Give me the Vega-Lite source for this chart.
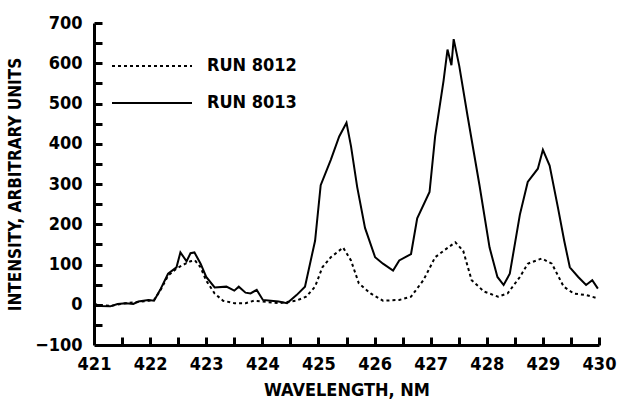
{
  "$schema": "https://vega.github.io/schema/vega-lite/v6.json",
  "width": 505,
  "height": 322,
  "autosize": {"type": "none"},
  "padding": {"left": 94, "top": 23, "right": 21, "bottom": 66},
  "background": "white",
  "config": {
    "view": {"stroke": null},
    "font": "DejaVu Sans Condensed, Liberation Sans Narrow, Liberation Sans, sans-serif"
  },
  "datasets": {
    "spectra": [
      {"wl": 421.0, "intensity": 2, "run": "RUN 8013"},
      {"wl": 421.12, "intensity": -3, "run": "RUN 8013"},
      {"wl": 421.29, "intensity": -4, "run": "RUN 8013"},
      {"wl": 421.42, "intensity": 2, "run": "RUN 8013"},
      {"wl": 421.57, "intensity": 4, "run": "RUN 8013"},
      {"wl": 421.7, "intensity": 2, "run": "RUN 8013"},
      {"wl": 421.79, "intensity": 8, "run": "RUN 8013"},
      {"wl": 421.97, "intensity": 12, "run": "RUN 8013"},
      {"wl": 422.07, "intensity": 10, "run": "RUN 8013"},
      {"wl": 422.18, "intensity": 37, "run": "RUN 8013"},
      {"wl": 422.32, "intensity": 77, "run": "RUN 8013"},
      {"wl": 422.47, "intensity": 93, "run": "RUN 8013"},
      {"wl": 422.54, "intensity": 130, "run": "RUN 8013"},
      {"wl": 422.65, "intensity": 108, "run": "RUN 8013"},
      {"wl": 422.72, "intensity": 128, "run": "RUN 8013"},
      {"wl": 422.79, "intensity": 130, "run": "RUN 8013"},
      {"wl": 422.9, "intensity": 102, "run": "RUN 8013"},
      {"wl": 423.0, "intensity": 69, "run": "RUN 8013"},
      {"wl": 423.15, "intensity": 43, "run": "RUN 8013"},
      {"wl": 423.36, "intensity": 45, "run": "RUN 8013"},
      {"wl": 423.5, "intensity": 35, "run": "RUN 8013"},
      {"wl": 423.58, "intensity": 45, "run": "RUN 8013"},
      {"wl": 423.7, "intensity": 30, "run": "RUN 8013"},
      {"wl": 423.79, "intensity": 28, "run": "RUN 8013"},
      {"wl": 423.9, "intensity": 37, "run": "RUN 8013"},
      {"wl": 424.01, "intensity": 12, "run": "RUN 8013"},
      {"wl": 424.15, "intensity": 10, "run": "RUN 8013"},
      {"wl": 424.29, "intensity": 8, "run": "RUN 8013"},
      {"wl": 424.44, "intensity": 4, "run": "RUN 8013"},
      {"wl": 424.61, "intensity": 24, "run": "RUN 8013"},
      {"wl": 424.76, "intensity": 45, "run": "RUN 8013"},
      {"wl": 424.94, "intensity": 159, "run": "RUN 8013"},
      {"wl": 425.04, "intensity": 297, "run": "RUN 8013"},
      {"wl": 425.22, "intensity": 360, "run": "RUN 8013"},
      {"wl": 425.37, "intensity": 418, "run": "RUN 8013"},
      {"wl": 425.5, "intensity": 452, "run": "RUN 8013"},
      {"wl": 425.58, "intensity": 394, "run": "RUN 8013"},
      {"wl": 425.69, "intensity": 293, "run": "RUN 8013"},
      {"wl": 425.83, "intensity": 191, "run": "RUN 8013"},
      {"wl": 426.01, "intensity": 118, "run": "RUN 8013"},
      {"wl": 426.15, "intensity": 102, "run": "RUN 8013"},
      {"wl": 426.33, "intensity": 85, "run": "RUN 8013"},
      {"wl": 426.44, "intensity": 110, "run": "RUN 8013"},
      {"wl": 426.65, "intensity": 126, "run": "RUN 8013"},
      {"wl": 426.76, "intensity": 215, "run": "RUN 8013"},
      {"wl": 426.98, "intensity": 280, "run": "RUN 8013"},
      {"wl": 427.08, "intensity": 419, "run": "RUN 8013"},
      {"wl": 427.23, "intensity": 557, "run": "RUN 8013"},
      {"wl": 427.3, "intensity": 634, "run": "RUN 8013"},
      {"wl": 427.37, "intensity": 595, "run": "RUN 8013"},
      {"wl": 427.41, "intensity": 660, "run": "RUN 8013"},
      {"wl": 427.51, "intensity": 593, "run": "RUN 8013"},
      {"wl": 427.66, "intensity": 467, "run": "RUN 8013"},
      {"wl": 427.87, "intensity": 297, "run": "RUN 8013"},
      {"wl": 428.05, "intensity": 142, "run": "RUN 8013"},
      {"wl": 428.19, "intensity": 69, "run": "RUN 8013"},
      {"wl": 428.3, "intensity": 49, "run": "RUN 8013"},
      {"wl": 428.41, "intensity": 77, "run": "RUN 8013"},
      {"wl": 428.59, "intensity": 224, "run": "RUN 8013"},
      {"wl": 428.73, "intensity": 305, "run": "RUN 8013"},
      {"wl": 428.91, "intensity": 338, "run": "RUN 8013"},
      {"wl": 429.0, "intensity": 385, "run": "RUN 8013"},
      {"wl": 429.12, "intensity": 346, "run": "RUN 8013"},
      {"wl": 429.27, "intensity": 240, "run": "RUN 8013"},
      {"wl": 429.38, "intensity": 159, "run": "RUN 8013"},
      {"wl": 429.48, "intensity": 93, "run": "RUN 8013"},
      {"wl": 429.63, "intensity": 69, "run": "RUN 8013"},
      {"wl": 429.77, "intensity": 49, "run": "RUN 8013"},
      {"wl": 429.88, "intensity": 61, "run": "RUN 8013"},
      {"wl": 429.98, "intensity": 40, "run": "RUN 8013"},
      {"wl": 421.0, "intensity": 1, "run": "RUN 8012"},
      {"wl": 421.29, "intensity": -3, "run": "RUN 8012"},
      {"wl": 421.57, "intensity": 4, "run": "RUN 8012"},
      {"wl": 421.79, "intensity": 7, "run": "RUN 8012"},
      {"wl": 421.97, "intensity": 10, "run": "RUN 8012"},
      {"wl": 422.07, "intensity": 12, "run": "RUN 8012"},
      {"wl": 422.18, "intensity": 35, "run": "RUN 8012"},
      {"wl": 422.32, "intensity": 72, "run": "RUN 8012"},
      {"wl": 422.47, "intensity": 90, "run": "RUN 8012"},
      {"wl": 422.6, "intensity": 100, "run": "RUN 8012"},
      {"wl": 422.72, "intensity": 108, "run": "RUN 8012"},
      {"wl": 422.8, "intensity": 110, "run": "RUN 8012"},
      {"wl": 422.9, "intensity": 93, "run": "RUN 8012"},
      {"wl": 423.0, "intensity": 60, "run": "RUN 8012"},
      {"wl": 423.15, "intensity": 28, "run": "RUN 8012"},
      {"wl": 423.3, "intensity": 10, "run": "RUN 8012"},
      {"wl": 423.5, "intensity": 4, "run": "RUN 8012"},
      {"wl": 423.7, "intensity": 4, "run": "RUN 8012"},
      {"wl": 423.85, "intensity": 10, "run": "RUN 8012"},
      {"wl": 424.0, "intensity": 8, "run": "RUN 8012"},
      {"wl": 424.3, "intensity": 4, "run": "RUN 8012"},
      {"wl": 424.6, "intensity": 10, "run": "RUN 8012"},
      {"wl": 424.78, "intensity": 20, "run": "RUN 8012"},
      {"wl": 424.94, "intensity": 45, "run": "RUN 8012"},
      {"wl": 425.07, "intensity": 93, "run": "RUN 8012"},
      {"wl": 425.22, "intensity": 118, "run": "RUN 8012"},
      {"wl": 425.44, "intensity": 142, "run": "RUN 8012"},
      {"wl": 425.58, "intensity": 110, "run": "RUN 8012"},
      {"wl": 425.72, "intensity": 53, "run": "RUN 8012"},
      {"wl": 425.93, "intensity": 28, "run": "RUN 8012"},
      {"wl": 426.15, "intensity": 10, "run": "RUN 8012"},
      {"wl": 426.44, "intensity": 12, "run": "RUN 8012"},
      {"wl": 426.65, "intensity": 20, "run": "RUN 8012"},
      {"wl": 426.87, "intensity": 61, "run": "RUN 8012"},
      {"wl": 427.08, "intensity": 118, "run": "RUN 8012"},
      {"wl": 427.23, "intensity": 134, "run": "RUN 8012"},
      {"wl": 427.44, "intensity": 155, "run": "RUN 8012"},
      {"wl": 427.58, "intensity": 134, "run": "RUN 8012"},
      {"wl": 427.73, "intensity": 61, "run": "RUN 8012"},
      {"wl": 427.95, "intensity": 33, "run": "RUN 8012"},
      {"wl": 428.2, "intensity": 20, "run": "RUN 8012"},
      {"wl": 428.37, "intensity": 28, "run": "RUN 8012"},
      {"wl": 428.59, "intensity": 69, "run": "RUN 8012"},
      {"wl": 428.73, "intensity": 102, "run": "RUN 8012"},
      {"wl": 428.98, "intensity": 115, "run": "RUN 8012"},
      {"wl": 429.16, "intensity": 102, "run": "RUN 8012"},
      {"wl": 429.37, "intensity": 45, "run": "RUN 8012"},
      {"wl": 429.55, "intensity": 28, "run": "RUN 8012"},
      {"wl": 429.77, "intensity": 24, "run": "RUN 8012"},
      {"wl": 429.98, "intensity": 16, "run": "RUN 8012"}
    ]
  },
  "data": {"name": "spectra"},
  "layer": [
    {
      "transform": [{"filter": "datum.run === 'RUN 8012'"}],
      "mark": {"type": "line", "stroke": "black", "strokeWidth": 2, "clip": true},
      "encoding": {
        "x": {
          "field": "wl",
          "type": "quantitative",
          "scale": {"domain": [421, 430], "nice": false, "zero": false},
          "axis": {
            "title": "WAVELENGTH, NM",
            "values": [421, 422, 423, 424, 425, 426, 427, 428, 429, 430],
            "format": "d",
            "grid": false,
            "ticks": false,
            "domainColor": "black",
            "domainWidth": 3,
            "labelPadding": 10,
            "labelFontSize": 18,
            "labelFontWeight": "bold",
            "labelColor": "black",
            "labelFlush": false,
            "labelOverlap": false,
            "titleFontSize": 18,
            "titleFontWeight": "bold",
            "titleColor": "black",
            "titlePadding": 8
          }
        },
        "y": {
          "field": "intensity",
          "type": "quantitative",
          "scale": {"domain": [-100, 700], "nice": false, "zero": false},
          "axis": {
            "title": "INTENSITY, ARBITRARY UNITS",
            "values": [-100, 0, 100, 200, 300, 400, 500, 600, 700],
            "format": "d",
            "grid": false,
            "ticks": false,
            "domainColor": "black",
            "domainWidth": 3,
            "labelPadding": 12,
            "labelFontSize": 18,
            "labelFontWeight": "bold",
            "labelColor": "black",
            "labelFlush": false,
            "labelOverlap": false,
            "titleFontSize": 17,
            "titleFontWeight": "bold",
            "titleColor": "black",
            "titlePadding": 10
          }
        },
        "strokeDash": {
          "field": "run",
          "type": "nominal",
          "scale": {"domain": ["RUN 8012", "RUN 8013"], "range": [[3, 3], [1, 0]]},
          "legend": {
            "orient": "none",
            "legendX": 37,
            "legendY": 22,
            "title": null,
            "symbolType": "M-2,0H2",
            "symbolSize": 1600,
            "symbolStrokeWidth": 2,
            "symbolStrokeColor": "black",
            "labelFontSize": 18,
            "labelFontWeight": "bold",
            "labelColor": "black",
            "labelOffset": 34,
            "rowPadding": 7
          }
        }
      }
    },
    {
      "transform": [{"filter": "datum.run === 'RUN 8013'"}],
      "mark": {"type": "line", "stroke": "black", "strokeWidth": 2, "clip": true},
      "encoding": {
        "x": {
          "field": "wl",
          "type": "quantitative",
          "scale": {"domain": [421, 430], "nice": false, "zero": false},
          "axis": {
            "orient": "top",
            "offset": -322,
            "title": null,
            "values": [421.5, 422, 422.5, 423, 423.5, 424, 424.5, 425, 425.5, 426, 426.5, 427, 427.5, 428, 428.5, 429, 429.5, 430],
            "labels": false,
            "domain": false,
            "grid": false,
            "ticks": true,
            "tickColor": "black",
            "tickWidth": 3,
            "tickSize": 8
          }
        },
        "y": {
          "field": "intensity",
          "type": "quantitative",
          "scale": {"domain": [-100, 700], "nice": false, "zero": false},
          "axis": {
            "orient": "right",
            "offset": -505,
            "title": null,
            "values": [-50, 0, 50, 100, 150, 200, 250, 300, 350, 400, 450, 500, 550, 600, 650, 700],
            "labels": false,
            "domain": false,
            "grid": false,
            "ticks": true,
            "tickColor": "black",
            "tickWidth": 3,
            "tickSize": 8
          }
        }
      }
    }
  ],
  "resolve": {"axis": {"x": "independent", "y": "independent"}}
}
